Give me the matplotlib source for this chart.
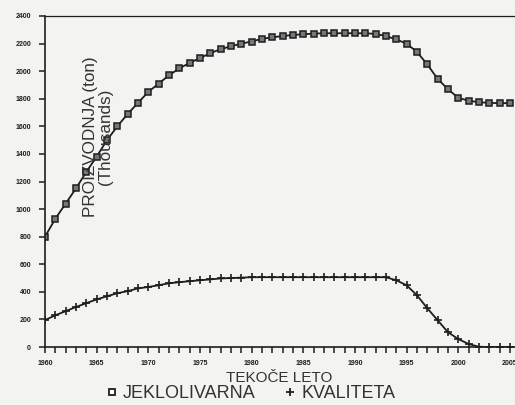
import matplotlib.pyplot as plt
from matplotlib.lines import Line2D
from matplotlib.ticker import MultipleLocator

plt.rcParams['font.family'] = ['Liberation Sans', 'DejaVu Sans']

# Years on the x axis
years = [1960, 1961, 1962, 1963, 1964, 1965, 1966, 1967, 1968, 1969,
         1970, 1971, 1972, 1973, 1974, 1975, 1976, 1977, 1978, 1979,
         1980, 1981, 1982, 1983, 1984, 1985, 1986, 1987, 1988, 1989,
         1990, 1991, 1992, 1993, 1994, 1995, 1996, 1997, 1998, 1999,
         2000, 2001, 2002, 2003, 2004, 2005]

# JEKLOLIVARNA production (thousands of tons)
jeklolivarna = [800, 930, 1040, 1150, 1270, 1380, 1500, 1600, 1690, 1770,
                1850, 1910, 1970, 2020, 2060, 2095, 2130, 2160, 2180, 2200,
                2215, 2235, 2245, 2255, 2262, 2268, 2272, 2275, 2275, 2275,
                2275, 2275, 2270, 2255, 2230, 2200, 2140, 2050, 1945, 1870,
                1807, 1786, 1775, 1770, 1768, 1768]

# KVALITETA production (thousands of tons)
kvaliteta = [195, 230, 260, 290, 318, 345, 368, 390, 405, 425,
             435, 448, 462, 470, 477, 484, 490, 497, 500, 503,
             506, 506, 506, 506, 506, 506, 506, 506, 506, 506,
             506, 506, 506, 506, 484, 448, 376, 282, 195, 108,
             58, 22, 2, 0, 0, 0]

y_ticks = [0, 200, 400, 600, 800, 1000, 1200, 1400, 1600, 1800, 2000, 2200, 2400]
x_ticks = [1960, 1965, 1970, 1975, 1980, 1985, 1990, 1995, 2000, 2005]

ink = '#1e1e1e'
paper = '#f3f3f1'
txt = '#333333'

fig = plt.figure(figsize=(5.15, 4.05), dpi=100, facecolor=paper)
ax = fig.add_axes([0.0874, 0.1432, 0.9126, 0.8173], facecolor=paper)

ax.plot(years, jeklolivarna, color=ink, lw=1.3, marker='s', markersize=4,
        markerfacecolor='#777777', markeredgecolor=ink, markeredgewidth=1.1)
ax.plot(years, kvaliteta, color=ink, lw=1.3, marker='+', markersize=6,
        markeredgewidth=1.2)

ax.set_xlim(1960, 2005.5)
ax.set_ylim(0, 2400)
ax.set_xticks(x_ticks)
ax.xaxis.set_minor_locator(MultipleLocator(1))
ax.set_yticks(y_ticks)

ax.tick_params(axis='both', which='both', direction='out', length=4,
               width=1.1, color=ink, labelsize=5, labelcolor=ink)
ax.tick_params(axis='x', pad=5)
ax.tick_params(axis='y', pad=6)
for lab in ax.get_xticklabels() + ax.get_yticklabels():
    lab.set_fontweight('bold')

ax.spines['right'].set_visible(False)
for s in ['left', 'bottom', 'top']:
    ax.spines[s].set_color(ink)
    ax.spines[s].set_linewidth(1.2)
ax.spines['top'].set_linewidth(0.9)

# axis title sits inside the plot, rotated
ax.text(0.113, 0.634, 'PROIZVODNJA (ton)\n(Thousands)',
        transform=ax.transAxes, rotation=90, ha='center', va='center',
        fontsize=12.3, color=txt, linespacing=0.95)

fig.text(279 / 515, 1 - 378 / 405, 'TEKOČE LETO', ha='center', va='center',
         fontsize=11, color=txt)

handles = [Line2D([], [], ls='none', marker='s', markersize=5,
                  markerfacecolor='white', markeredgecolor=ink, markeredgewidth=1.3),
           Line2D([], [], ls='none', marker='+', markersize=6,
                  markeredgecolor=ink, markeredgewidth=1.3)]
fig.legend(handles, ['JEKLOLIVARNA', 'KVALITETA'], loc='center',
           bbox_to_anchor=(251 / 515, 1 - 394 / 405), ncol=2, frameon=False,
           fontsize=13, handlelength=0.6, handletextpad=0.3, columnspacing=1.6,
           labelcolor=txt, borderpad=0)

fig.savefig('out.png', dpi=100, facecolor=paper)
